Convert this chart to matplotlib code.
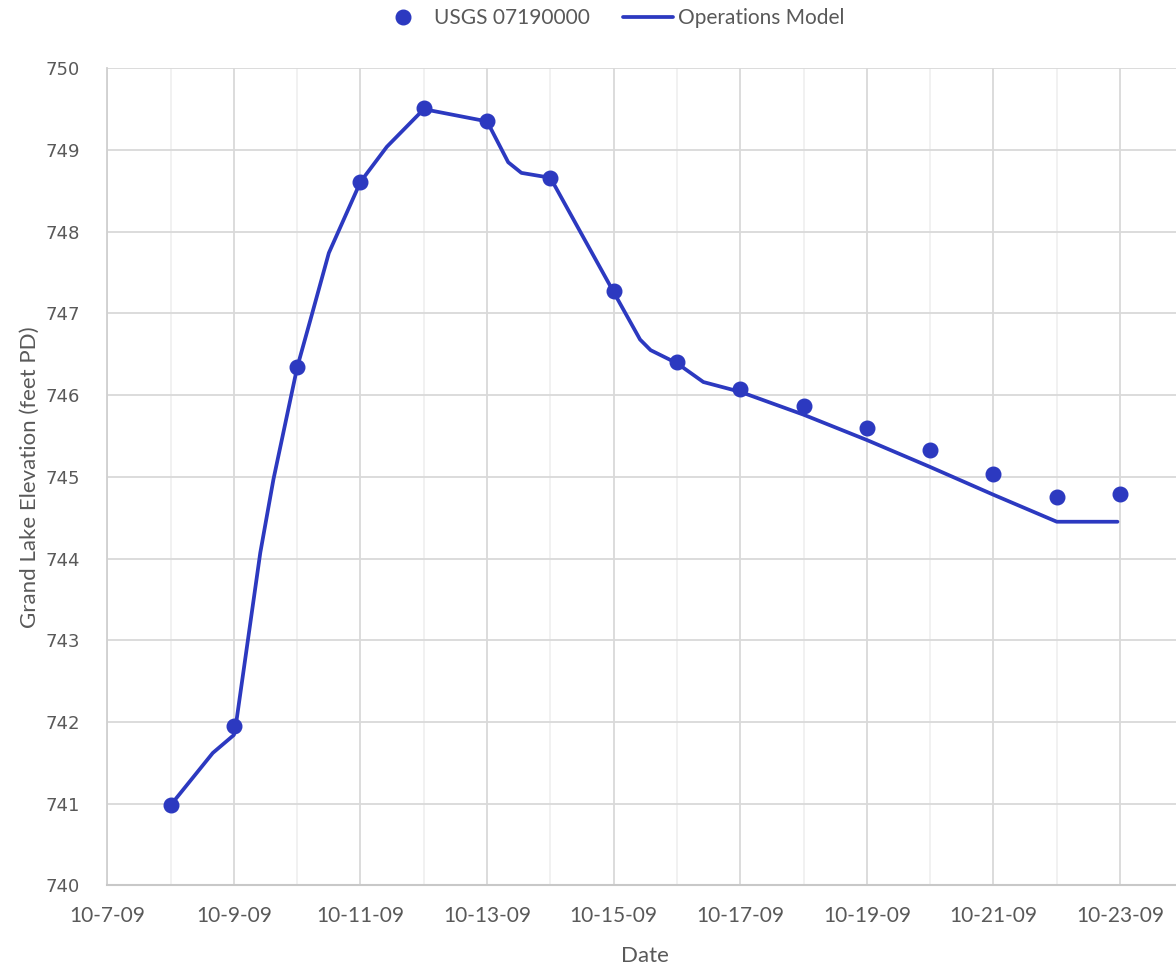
import pandas as pd
import matplotlib
matplotlib.use("Agg")
import matplotlib.pyplot as plt
import matplotlib.dates as mdates
from matplotlib.ticker import MultipleLocator, FuncFormatter

# === DATOS ===
usgs_dates = ["2009-10-08", "2009-10-09", "2009-10-10", "2009-10-11", "2009-10-12",
              "2009-10-13", "2009-10-14", "2009-10-15", "2009-10-16", "2009-10-17",
              "2009-10-18", "2009-10-19", "2009-10-20", "2009-10-21", "2009-10-22",
              "2009-10-23"]
usgs_elev = [740.98, 741.95, 746.34, 748.61, 749.51, 749.36, 748.66, 747.27,
             746.40, 746.07, 745.87, 745.60, 745.33, 745.04, 744.75, 744.79]

model_times = ["2009-10-08 00:00", "2009-10-08 16:00", "2009-10-09 00:00", "2009-10-09 01:00",
               "2009-10-09 10:00", "2009-10-09 15:00", "2009-10-10 00:00", "2009-10-10 05:00",
               "2009-10-10 12:00", "2009-10-11 00:00", "2009-10-11 10:00",
               "2009-10-12 00:00", "2009-10-13 00:00", "2009-10-13 08:00", "2009-10-13 13:00",
               "2009-10-14 00:00", "2009-10-15 00:00", "2009-10-15 10:00", "2009-10-15 14:00",
               "2009-10-16 00:00", "2009-10-16 10:00", "2009-10-17 00:00", "2009-10-18 00:00",
               "2009-10-19 00:00", "2009-10-20 00:00", "2009-10-21 00:00", "2009-10-22 00:00",
               "2009-10-22 23:00"]
model_elev = [740.98, 741.62, 741.84, 742.02, 744.07, 744.97, 746.34, 746.92,
              747.74, 748.61, 749.04, 749.50, 749.35, 748.85, 748.72,
              748.66, 747.26, 746.68, 746.55, 746.39, 746.16, 746.04, 745.76,
              745.45, 745.12, 744.78, 744.45, 744.45]

# === ESTILO ===
blue = "#2C39C0"
grey_txt = "#595959"
W, H = 1176, 966

fig = plt.figure(figsize=(W / 100, H / 100), dpi=100)
ax = fig.add_axes([107.3 / W, (H - 885.3) / H, (1183.4 - 107.3) / W, (885.3 - 68.3) / H])

t_usgs = pd.to_datetime(usgs_dates)
t_model = pd.to_datetime(model_times)

ax.plot(t_model, model_elev, color=blue, lw=2.7, solid_joinstyle="round",
        solid_capstyle="round", label="Operations Model", zorder=3)
ax.plot(t_usgs, usgs_elev, "o", color=blue, ms=10.5, label="USGS 07190000", zorder=4)

ax.set_xlim(pd.Timestamp("2009-10-07"), pd.Timestamp("2009-10-24"))
ax.set_ylim(740, 750)

ax.xaxis.set_major_locator(mdates.DayLocator(bymonthday=range(7, 32, 2)))
ax.xaxis.set_minor_locator(mdates.DayLocator())
ax.xaxis.set_major_formatter(FuncFormatter(
    lambda v, p: (lambda d: f"{d.month}-{d.day}-{d:%y}")(mdates.num2date(v))))
ax.yaxis.set_major_locator(MultipleLocator(1))

ax.grid(True, which="major", color="#D9D9D9", lw=1.3)
ax.grid(True, which="minor", axis="x", color="#F0F0F0", lw=1.3)
ax.set_axisbelow(True)

for s in ["top", "right"]:
    ax.spines[s].set_visible(False)
ax.spines["left"].set_color("#D0D0D0")
ax.spines["bottom"].set_color("#C8C8C8")
ax.spines["left"].set_linewidth(1.3)
ax.spines["bottom"].set_linewidth(1.5)

ax.tick_params(which="both", length=0)
ax.tick_params(axis="x", pad=15, labelsize=15, labelcolor=grey_txt)
ax.tick_params(axis="y", pad=20, labelsize=13, labelcolor=grey_txt)
for lab in ax.get_xticklabels():
    lab.set_family("Lato")
for lab in ax.get_yticklabels():
    lab.set_family("DejaVu Sans")

ax.set_xlabel("Date", fontsize=16, color=grey_txt, family="Lato", labelpad=14)
ax.set_ylabel("Grand Lake Elevation (feet PD)", fontsize=16, color=grey_txt,
              family="Lato", labelpad=4)

h, l = ax.get_legend_handles_labels()
fig.legend(h[::-1], l[::-1], loc="upper center", bbox_to_anchor=(0.52, 1.011), ncol=2,
           frameon=False, prop={"family": "Lato", "size": 15}, labelcolor=grey_txt,
           handlelength=2.4, columnspacing=1.6, handletextpad=0.25)

fig.savefig("out.png", dpi=100)
